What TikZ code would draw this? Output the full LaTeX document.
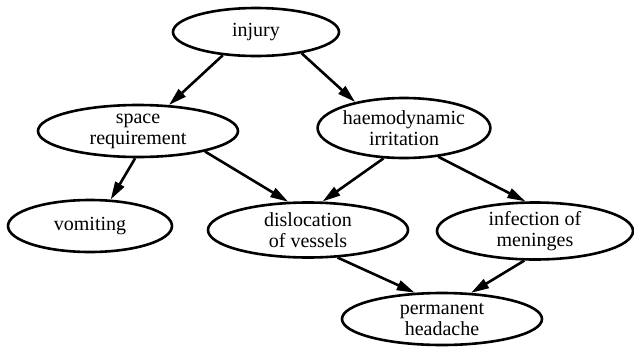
\documentclass[tikz,border=0pt]{standalone}
\usepackage{fontspec}
\setmainfont{Liberation Serif}
\usetikzlibrary{arrows.meta,shapes.geometric}

\begin{document}
\begin{tikzpicture}[x=1pt,y=-1pt,>={Triangle[length=18pt,width=10pt]},line width=2.6pt,bubble/.style ={ellipse, draw=black, line width=2.6pt, inner sep=0pt, align=center, font=\fontsize{20}{21}\selectfont}]
\useasboundingbox (0,0) rectangle (634,346);
\draw (256,32) node[bubble, minimum width=166pt, minimum height=48pt] (injury) {injury};
\draw (138,131) node[bubble, minimum width=200pt, minimum height=52pt] (space) {space\\requirement};
\draw (404,128) node[bubble, minimum width=172pt, minimum height=60pt] (haemo) {haemodynamic\\irritation};
\draw (90,226) node[bubble, minimum width=164pt, minimum height=52pt] (vomiting) {vomiting};
\draw (308,230) node[bubble, minimum width=200pt, minimum height=55pt] (disloc) {dislocation\\of vessels};
\draw (535,231) node[bubble, minimum width=196pt, minimum height=57pt] (infect) {infection of\\meninges};
\draw (442,319) node[bubble, minimum width=200pt, minimum height=52pt] (headache) {permanent\\headache};
\draw [->] (injury.-145) -- (space.40);
\draw [->] (injury.-25) -- (haemo.152);
\draw [->] (space.-96) -- (vomiting.52);
\draw [->] (space.-17) -- (disloc.125);
\draw [->] (haemo.-124) -- (disloc.63);
\draw [->] (haemo.-40) -- (infect.108);
\draw [->] (disloc.-43) -- (headache.136);
\draw [->] (infect.-110) -- (headache.42);

\end{tikzpicture}
\end{document}
